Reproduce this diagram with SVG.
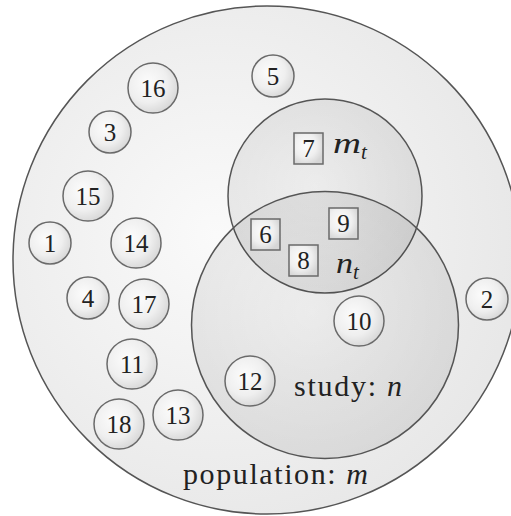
<svg xmlns="http://www.w3.org/2000/svg" width="511" height="516" viewBox="0 0 511 516">
<defs>
<radialGradient id="gPop" cx="0.4" cy="0.45" r="0.6">
<stop offset="0" stop-color="#fafafa"/>
<stop offset="1" stop-color="#e8e8e8"/>
</radialGradient>
<radialGradient id="gSet" cx="0.45" cy="0.45" r="0.6">
<stop offset="0" stop-color="#000" stop-opacity="0.03"/>
<stop offset="1" stop-color="#000" stop-opacity="0.08"/>
</radialGradient>
<radialGradient id="gNode" cx="0.4" cy="0.4" r="0.65">
<stop offset="0" stop-color="#fcfcfc"/>
<stop offset="0.6" stop-color="#efefef"/>
<stop offset="1" stop-color="#d6d6d6"/>
</radialGradient>
</defs>
<style>
.set{stroke:#555;stroke-width:1.5;}
.nd{fill:url(#gNode);stroke:#6a6a6a;stroke-width:1.5;}
.num{font-size:25px;fill:#222;text-anchor:middle;}
.lbl{font-size:30px;fill:#222;}
.it{font-style:italic;}
</style>
<g id="population">
<circle cx="267" cy="260" r="254" fill="url(#gPop)" class="set"/>
</g>
<g id="target">
<circle cx="325" cy="196" r="97" fill="url(#gSet)" class="set"/>
</g>
<g id="study">
<circle cx="325" cy="325" r="133.5" fill="url(#gSet)" class="set"/>
</g>
<g id="labels" font-family="Liberation Serif, Times New Roman, serif">
<text class="lbl" x="183" y="484" textLength="185" lengthAdjust="spacing">population: <tspan class="it">m</tspan></text>
<text class="lbl" x="294" y="396" textLength="108" lengthAdjust="spacing">study: <tspan class="it">n</tspan></text>
<text class="lbl" x="333" y="153"><tspan class="it" textLength="28" lengthAdjust="spacingAndGlyphs">m</tspan><tspan class="it" font-size="21" dy="6">t</tspan></text>
<text class="lbl" x="336" y="273"><tspan class="it" textLength="17" lengthAdjust="spacingAndGlyphs">n</tspan><tspan class="it" font-size="21" dy="6">t</tspan></text>
</g>
<g id="nodes" font-family="Liberation Serif, Times New Roman, serif">
<g id="n5"><circle class="nd" cx="273" cy="76" r="21"/><text class="num" x="273" y="84.5">5</text></g>
<g id="n16"><circle class="nd" cx="153" cy="88" r="25"/><text class="num" x="153" y="96.5">16</text></g>
<g id="n3"><circle class="nd" cx="110" cy="132" r="21"/><text class="num" x="110" y="140.5">3</text></g>
<g id="n15"><circle class="nd" cx="88" cy="196" r="25"/><text class="num" x="88" y="204.5">15</text></g>
<g id="n1"><circle class="nd" cx="50" cy="243" r="21"/><text class="num" x="50" y="251.5">1</text></g>
<g id="n14"><circle class="nd" cx="136" cy="243" r="25"/><text class="num" x="136" y="251.5">14</text></g>
<g id="n4"><circle class="nd" cx="88" cy="298" r="21"/><text class="num" x="88" y="306.5">4</text></g>
<g id="n17"><circle class="nd" cx="144" cy="304" r="25"/><text class="num" x="144" y="312.5">17</text></g>
<g id="n11"><circle class="nd" cx="132" cy="364" r="25"/><text class="num" x="132" y="372.5">11</text></g>
<g id="n18"><circle class="nd" cx="119" cy="424" r="25"/><text class="num" x="119" y="432.5">18</text></g>
<g id="n13"><circle class="nd" cx="178" cy="415" r="25"/><text class="num" x="178" y="423.5">13</text></g>
<g id="n12"><circle class="nd" cx="250" cy="381" r="25"/><text class="num" x="250" y="389.5">12</text></g>
<g id="n10"><circle class="nd" cx="359" cy="321" r="25"/><text class="num" x="359" y="329.5">10</text></g>
<g id="n2"><circle class="nd" cx="487" cy="299" r="21"/><text class="num" x="487" y="307.5">2</text></g>
<g id="n7"><rect class="nd" x="294" y="133" width="29" height="31"/><text class="num" x="308.5" y="157">7</text></g>
<g id="n6"><rect class="nd" x="251" y="219" width="29" height="31"/><text class="num" x="265.5" y="243">6</text></g>
<g id="n9"><rect class="nd" x="329" y="208" width="29" height="31"/><text class="num" x="343.5" y="232">9</text></g>
<g id="n8"><rect class="nd" x="289" y="245" width="29" height="31"/><text class="num" x="303.5" y="269">8</text></g>
</g>
</svg>
